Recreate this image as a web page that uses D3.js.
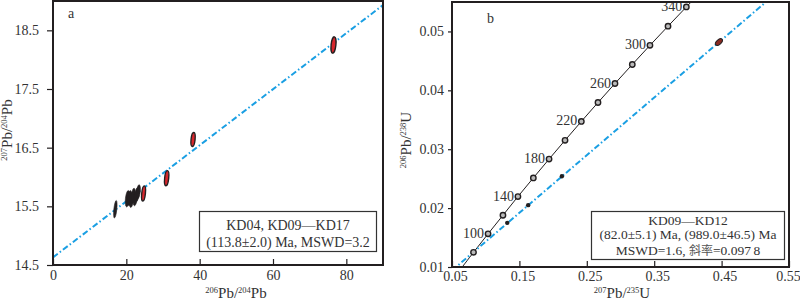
<!DOCTYPE html>
<html><head><meta charset="utf-8">
<script src="https://cdn.jsdelivr.net/npm/d3@7"></script>
<style>
html,body{margin:0;padding:0;background:#fff;}
svg{display:block;}
text{font-family:"Liberation Serif","Times New Roman",serif;fill:#333;}
</style></head>
<body>
<svg id="chart" width="800" height="303"></svg>
<script>
// ---------- Panel a data ----------
const aXTicks = [0, 20, 40, 60, 80];
const aYTicks = [14.5, 15.5, 16.5, 17.5, 18.5];
const aXDomain = [0, 90];
const aYDomain = [14.5, 19.0];
// ellipse centres (206Pb/204Pb, 207Pb/204Pb), half-axes (data units) and fill
const aPtX   = [17.0, 20.3, 20.9, 21.4, 21.9, 22.4, 22.9, 23.3, 24.7, 31.0, 38.2, 76.5];
const aPtY   = [15.45, 15.63, 15.64, 15.61, 15.68, 15.63, 15.70, 15.75, 15.72, 15.98, 16.64, 18.25];
const aPtRx  = [0.4, 0.55, 0.55, 0.55, 0.55, 0.55, 0.55, 0.5, 0.5, 0.55, 0.55, 0.65];
const aPtRy  = [0.15, 0.14, 0.13, 0.13, 0.13, 0.12, 0.12, 0.12, 0.13, 0.13, 0.12, 0.14];
const aPtRed = [false, false, false, false, false, false, false, false, true, true, true, true];
const aLineX = [0, 90];
const aLineY = [14.63, 18.93];
const aBoxLines = ["KD04, KD09\u2014KD17", "(113.8\u00b12.0) Ma, MSWD=3.2"];

// ---------- Panel b data ----------
const bXTicks = [0.05, 0.15, 0.25, 0.35, 0.45, 0.55];
const bYTicks = [0.01, 0.02, 0.03, 0.04, 0.05];
const bXDomain = [0.05, 0.55];
const bYDomain = [0.01, 0.055];
// concordia ages (Ma) and their 207Pb/235U, 206Pb/238U values
const concAge = [60, 80, 100, 120, 140, 160, 180, 200, 220, 240, 260, 280, 300, 320, 340, 360];
const conc75  = [0.0609, 0.0819, 0.1035, 0.1256, 0.1478, 0.1707, 0.1940, 0.2177, 0.2419, 0.2666, 0.2918, 0.3175, 0.3437, 0.3705, 0.3977, 0.4255];
const conc68  = [0.00935, 0.01249, 0.01563, 0.01879, 0.02196, 0.02513, 0.02832, 0.03151, 0.03472, 0.03793, 0.04116, 0.04439, 0.04764, 0.05089, 0.05416, 0.05743];
const concLabelAges = [100, 140, 180, 220, 260, 300, 340];
// discordia line end points and analysis points
const bLineX = [0.05, 0.52];
const bLineY = [0.00942, 0.05541];
const bDotX = [0.132, 0.163, 0.213];
const bDotY = [0.0175, 0.0205, 0.0254];
const bEllX = [0.446];
const bEllY = [0.0482];
const bBoxLines = ["KD09\u2014KD12", "(82.0\u00b15.1) Ma, (989.0\u00b146.5) Ma", "MSWD=1.6, "];

const svg = d3.select("#chart");
const BLUE = "#1a9fe3";
const DARK = "#231f20";
const RED = "#d7262c";

function styleAxis(g){
  g.select(".domain").remove();
  g.selectAll("line").attr("stroke",DARK).attr("stroke-width",1.2);
  g.selectAll("text").style("font-size","14px").attr("fill","#333").attr("font-family","Liberation Serif");
}
function ratioLabel(sel, sup1, el1, sup2, el2){
  sel.append("tspan").attr("baseline-shift","super").style("font-size","8.5px").text(sup1);
  sel.append("tspan").text(el1 + "/");
  sel.append("tspan").attr("baseline-shift","super").style("font-size","8.5px").text(sup2);
  sel.append("tspan").text(el2);
}

// ============ Panel a ============
const ax = d3.scaleLinear().domain(aXDomain).range([53, 383]);
const ay = d3.scaleLinear().domain(aYDomain).range([265, 1]);
const ga = svg.append("g");

ga.append("clipPath").attr("id","clipA").append("rect")
  .attr("x",53).attr("y",1).attr("width",330).attr("height",264);

ga.append("g").attr("transform","translate(0,265)")
  .call(d3.axisBottom(ax).tickValues(aXTicks).tickSizeInner(-6).tickSizeOuter(0).tickPadding(5).tickFormat(d3.format("d")))
  .call(styleAxis);
ga.append("g").attr("transform","translate(53,0)")
  .call(d3.axisLeft(ay).tickValues(aYTicks).tickSizeInner(6).tickSizeOuter(0).tickPadding(8).tickFormat(d3.format(".1f")))
  .call(styleAxis);

ga.append("line").attr("clip-path","url(#clipA)")
  .attr("x1",ax(aLineX[0])).attr("y1",ay(aLineY[0])).attr("x2",ax(aLineX[1])).attr("y2",ay(aLineY[1]))
  .attr("stroke",BLUE).attr("stroke-width",2).attr("stroke-dasharray","6,2.5,1.5,2.5");

aPtX.forEach((d,i)=>{
  const cx = ax(d), cy = ay(aPtY[i]);
  const rx = ax(aPtRx[i]) - ax(0);
  const ry = ay(aYDomain[0]) - ay(aYDomain[0] + aPtRy[i]);
  ga.append("ellipse").attr("cx",cx).attr("cy",cy).attr("rx",rx).attr("ry",ry)
    .attr("transform",`rotate(6,${cx},${cy})`)
    .attr("fill", aPtRed[i] ? RED : DARK).attr("stroke",DARK).attr("stroke-width", aPtRed[i]?1.4:0.6);
});

ga.append("rect").attr("x",53).attr("y",1).attr("width",330).attr("height",264)
  .attr("fill","none").attr("stroke",DARK).attr("stroke-width",2);

ga.append("text").attr("x",68).attr("y",18).style("font-size","14px").text("a");

ga.append("rect").attr("x",199.5).attr("y",211.5).attr("width",177).attr("height",40)
  .attr("fill","#fff").attr("stroke","#333").attr("stroke-width",1.2);
ga.append("text").attr("x",288).attr("y",230).attr("text-anchor","middle").style("font-size","14px").text(aBoxLines[0]);
ga.append("text").attr("x",288).attr("y",247).attr("text-anchor","middle").style("font-size","14px").text(aBoxLines[1]);

ratioLabel(ga.append("text").attr("x",236).attr("y",298).attr("text-anchor","middle").style("font-size","15px"),"206","Pb","204","Pb");
ratioLabel(ga.append("text").attr("transform","translate(12,130) rotate(-90)").attr("text-anchor","middle").style("font-size","15px"),"207","Pb","204","Pb");

// ============ Panel b ============
const bx = d3.scaleLinear().domain(bXDomain).range([452, 789]);
const by = d3.scaleLinear().domain(bYDomain).range([267, 2]);
const gb = svg.append("g");
gb.append("clipPath").attr("id","clipB").append("rect")
  .attr("x",452).attr("y",2).attr("width",337).attr("height",265);

gb.append("g").attr("transform","translate(0,267)")
  .call(d3.axisBottom(bx).tickValues(bXTicks).tickSizeInner(-6).tickSizeOuter(0).tickPadding(4).tickFormat(d3.format(".2f")))
  .call(styleAxis)
  .call(g=>g.selectAll("text").attr("dx", d=> d>=0.55 ? "-1" : "3"));
gb.append("g").attr("transform","translate(452,0)")
  .call(d3.axisLeft(by).tickValues(bYTicks).tickSizeInner(4).tickSizeOuter(0).tickPadding(4).tickFormat(d3.format(".2f")))
  .call(styleAxis);

const concPts = concAge.map((a,i)=>[conc75[i], conc68[i], a]);
gb.append("path").attr("clip-path","url(#clipB)")
  .attr("d", d3.line().x(d=>bx(d[0])).y(d=>by(d[1])).curve(d3.curveCatmullRom)(concPts))
  .attr("fill","none").attr("stroke",DARK).attr("stroke-width",1);

gb.append("line").attr("clip-path","url(#clipB)")
  .attr("x1",bx(bLineX[0])).attr("y1",by(bLineY[0])).attr("x2",bx(bLineX[1])).attr("y2",by(bLineY[1]))
  .attr("stroke",BLUE).attr("stroke-width",2).attr("stroke-dasharray","6,2.5,1.5,2.5");

concPts.filter(d=>d[2]>=80 && d[2]<=340).forEach(d=>{
  gb.append("circle").attr("cx",bx(d[0])).attr("cy",by(d[1])).attr("r",2.7)
    .attr("fill","#bbb").attr("stroke",DARK).attr("stroke-width",1.4);
});
concPts.filter(d=>concLabelAges.includes(d[2])).forEach(d=>{
  gb.append("text").attr("x",bx(d[0])-4).attr("y",by(d[1])+4).attr("text-anchor","end")
    .style("font-size","14px").text(d[2]);
});

bDotX.forEach((d,i)=>{
  gb.append("circle").attr("cx",bx(d)).attr("cy",by(bDotY[i])).attr("r",2.2).attr("fill",DARK);
});
bEllX.forEach((d,i)=>{
  const cx=bx(d), cy=by(bEllY[i]);
  gb.append("ellipse").attr("cx",cx).attr("cy",cy).attr("rx",4.2).attr("ry",2.3)
    .attr("transform",`rotate(-42,${cx},${cy})`).attr("fill","#8a2a22").attr("stroke",DARK).attr("stroke-width",1);
});

gb.append("rect").attr("x",452).attr("y",2).attr("width",337).attr("height",265)
  .attr("fill","none").attr("stroke",DARK).attr("stroke-width",2);

gb.append("text").attr("x",487).attr("y",23).style("font-size","14px").text("b");

gb.append("rect").attr("x",591.5).attr("y",211.5).attr("width",193).attr("height",48)
  .attr("fill","#fff").attr("stroke","#333").attr("stroke-width",1.2);
gb.append("text").attr("x",688).attr("y",224.5).attr("text-anchor","middle").style("font-size","13.5px").text(bBoxLines[0]);
gb.append("text").attr("x",688).attr("y",239).attr("text-anchor","middle").style("font-size","13.5px").text(bBoxLines[1]);
const t3 = gb.append("text").attr("x",688).attr("y",255).attr("text-anchor","middle").style("font-size","13.5px");
t3.append("tspan").text(bBoxLines[2]);
t3.append("tspan").style("font-family","'Noto Sans CJK SC'").style("font-size","12px").attr("fill","#555").text("斜率");
t3.append("tspan").text("=0.097\u20098");

ratioLabel(gb.append("text").attr("x",622).attr("y",298).attr("text-anchor","middle").style("font-size","15px"),"207","Pb","235","U");
ratioLabel(gb.append("text").attr("transform","translate(411,140) rotate(-90)").attr("text-anchor","middle").style("font-size","15px"),"206","Pb","238","U");
</script>
</body></html>
